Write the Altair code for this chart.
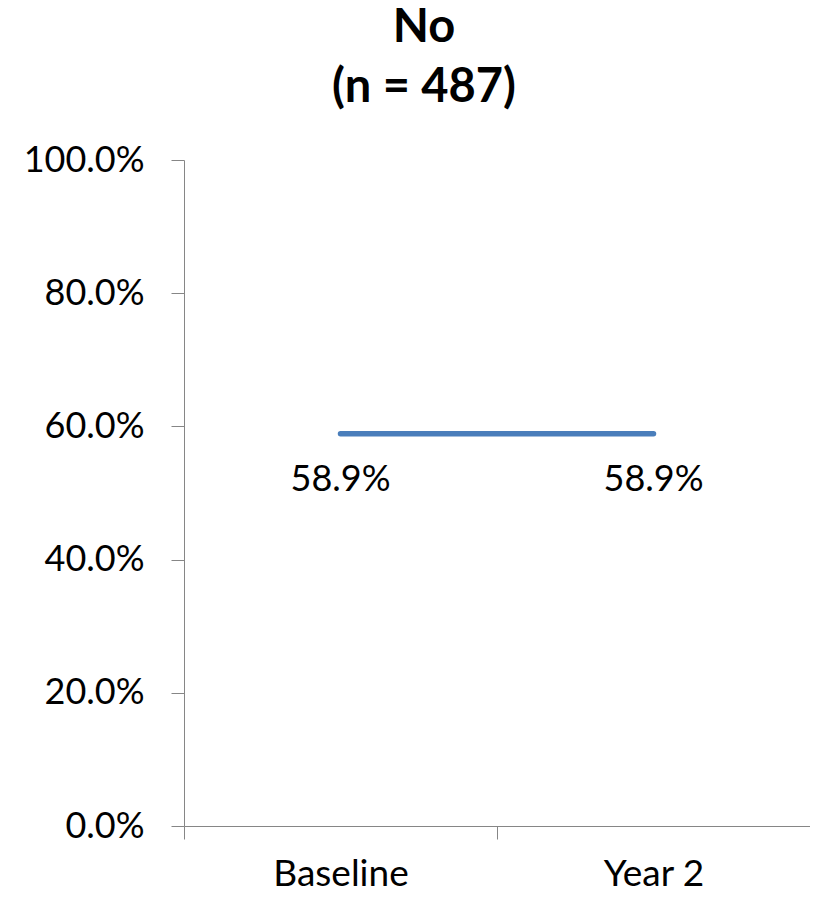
import altair as alt
import pandas as pd

categories = ["Baseline", "Year 2"]
values = [0.589, 0.589]
labels = ["58.9%", "58.9%"]
title_lines = ["No", "(n = 487)"]
y_ticks = [0.0, 0.2, 0.4, 0.6, 0.8, 1.0]

df = pd.DataFrame({"period": categories, "value": values, "label": labels})

FONT = "Lato"
AXIS_GRAY = "#868686"

x_enc = alt.X(
    "period:N",
    sort=categories,
    scale=alt.Scale(paddingInner=0, paddingOuter=0),
    axis=alt.Axis(
        title=None,
        tickBand="extent",
        labelAngle=0,
        labelFont=FONT,
        labelFontSize=37,
        labelColor="#000000",
        labelBaseline="alphabetic",
        labelPadding=46,
        tickSize=13,
        tickColor=AXIS_GRAY,
        domainColor=AXIS_GRAY,
        grid=False,
    ),
)
y_enc = alt.Y(
    "value:Q",
    scale=alt.Scale(domain=[0, 1], nice=False),
    axis=alt.Axis(
        title=None,
        values=y_ticks,
        format=".1%",
        labelFont=FONT,
        labelFontSize=36,
        labelColor="#000000",
        labelPadding=27,
        tickSize=13,
        tickColor=AXIS_GRAY,
        domainColor=AXIS_GRAY,
        grid=False,
    ),
)

line = alt.Chart(df).mark_line(color="#4a7ebb", strokeWidth=5.5, strokeCap="round").encode(
    x=x_enc, y=y_enc
)
text = alt.Chart(df).mark_text(
    font=FONT, fontSize=36, color="#000000", baseline="alphabetic", dy=57
).encode(x=alt.X("period:N", sort=categories), y="value:Q", text="label:N")

chart = (
    alt.layer(line, text)
    .properties(
        width=626,
        height=666,
        autosize=alt.AutoSizeParams(type="none"),
        padding={"left": 176, "top": 152, "right": 0, "bottom": 62},
        title=alt.TitleParams(
            text=title_lines,
            font=FONT,
            fontSize=47,
            fontWeight="bold",
            color="#000000",
            anchor="middle",
            frame="group",
            dx=-73,
            lineHeight=60,
            offset=30,
        ),
    )
    .configure_view(stroke=None)
)

chart.save("out.html", embed_options={"renderer": "svg", "actions": False})
